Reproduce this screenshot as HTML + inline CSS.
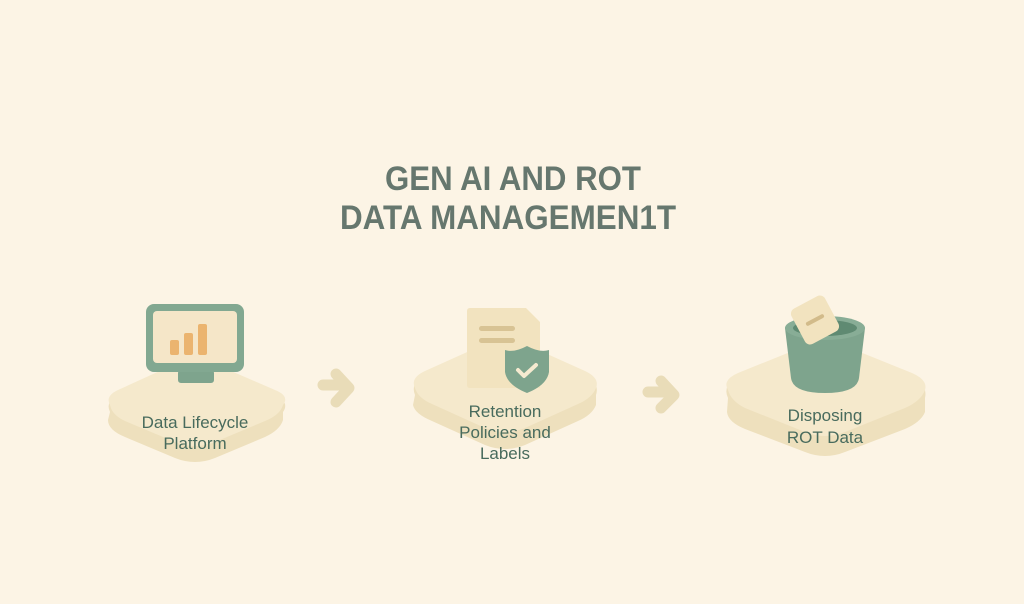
<!DOCTYPE html>
<html><head><meta charset="utf-8"><style>
html,body{margin:0;padding:0;background:#fcf4e5;}
svg{display:block}
text{font-family:"Liberation Sans","DejaVu Sans",sans-serif;}
</style></head><body>
<svg width="1024" height="604" viewBox="0 0 1024 604" xmlns="http://www.w3.org/2000/svg">
<rect width="1024" height="604" fill="#fcf4e5"/>
<text x="385" y="190" textLength="256" lengthAdjust="spacingAndGlyphs" font-size="34" font-weight="bold" fill="#66776e">GEN AI AND ROT</text>
<text x="340" y="229" textLength="336" lengthAdjust="spacingAndGlyphs" font-size="34" font-weight="bold" fill="#66776e">DATA MANAGEMEN1T</text>

<!-- platform 1 -->
<path d="M110 412 Q105 402 118 395 L175 368 Q195 360 215 368 L275 395 Q290 402 283 412 L283 420 Q280 430 265 437 L215 458 Q195 466 175 458 L125 437 Q108 430 108 420 Z" fill="#eee0bd"/>
<path d="M110 405 Q105 396 118 390 L175 364 Q195 356 215 364 L275 390 Q290 396 283 405 Q280 415 265 421 L215 442 Q195 450 175 442 L125 421 Q112 415 110 405 Z" fill="#f5e9cc"/>
<rect x="178" y="370" width="36" height="13" rx="3" fill="#7ea48d"/>
<rect x="189" y="355" width="16" height="18" fill="#7ea48d"/>
<rect x="146" y="304" width="98" height="68" rx="8" fill="#82a891"/>
<rect x="153" y="311" width="84" height="52" rx="4" fill="#f5e6c8"/>
<rect x="170" y="340" width="9" height="15" rx="2" fill="#ebb46f"/>
<rect x="184" y="333" width="9" height="22" rx="2" fill="#ebb46f"/>
<rect x="198" y="324" width="9" height="31" rx="2" fill="#ebb46f"/>
<text x="195" y="428" text-anchor="middle" font-size="17" fill="#486b5d">Data Lifecycle</text>
<text x="195" y="449" text-anchor="middle" font-size="17" fill="#486b5d">Platform</text>

<!-- arrow 1 -->
<path d="M323 385 L345 385 M336 374 L349 388 L336 402" stroke="#e9dcb8" stroke-width="11" stroke-linecap="round" stroke-linejoin="round" fill="none"/>

<!-- platform 2 -->
<path d="M415 395 Q410 383 425 375 L485 348 Q505 340 525 348 L585 375 Q600 383 596 395 L596 405 Q592 415 578 421 L525 445 Q505 453 485 445 L432 421 Q415 414 413 405 Z" fill="#eee0bd"/>
<path d="M415 388 Q410 378 425 371 L485 344 Q505 336 525 344 L585 371 Q600 378 596 388 Q592 398 578 404 L525 428 Q505 436 485 428 L432 404 Q418 398 415 388 Z" fill="#f5e9cc"/>
<path d="M470 308 L526 308 L540 322 L540 388 L470 388 Q467 388 467 385 L467 311 Q467 308 470 308 Z" fill="#f2e3bf"/>
<rect x="479" y="326" width="36" height="5" rx="2.5" fill="#d8c394"/>
<rect x="479" y="338" width="36" height="5" rx="2.5" fill="#d8c394"/>
<path d="M527 346 Q540 353 549 350 L549 372 Q547 385 527 393 Q507 385 505 372 L505 350 Q514 353 527 346 Z" fill="#7ea48d"/>
<path d="M518 370 L524 376 L536 365" stroke="#f5ead0" stroke-width="4" fill="none" stroke-linecap="round" stroke-linejoin="round"/>
<text x="505" y="417" text-anchor="middle" font-size="17" fill="#486b5d">Retention</text>
<text x="505" y="438" text-anchor="middle" font-size="17" fill="#486b5d">Policies and</text>
<text x="505" y="459" text-anchor="middle" font-size="17" fill="#486b5d">Labels</text>

<!-- arrow 2 -->
<path d="M648 392 L670 392 M661 381 L674 395 L661 408" stroke="#e9dcb8" stroke-width="11" stroke-linecap="round" stroke-linejoin="round" fill="none"/>

<!-- platform 3 -->
<path d="M728 398 Q722 385 738 378 L805 350 Q825 342 845 350 L912 378 Q928 385 925 398 L925 412 Q921 422 905 429 L845 452 Q825 460 805 452 L745 429 Q728 422 727 412 Z" fill="#eee0bd"/>
<path d="M728 390 Q722 380 738 373 L805 346 Q825 338 845 346 L912 373 Q928 380 925 390 Q921 401 905 408 L845 432 Q825 440 805 432 L745 408 Q731 401 728 390 Z" fill="#f5e9cc"/>
<path d="M785 328 L791 378 Q793 393 825 393 Q857 393 859 378 L865 328 Z" fill="#7ea48d"/>
<ellipse cx="825" cy="328" rx="40" ry="12" fill="#88ad96"/>
<ellipse cx="825" cy="328" rx="32" ry="8" fill="#5f8a72"/>
<g transform="rotate(-28 815 320)"><rect x="796" y="300" width="38" height="40" rx="6" fill="#f2e3bf"/><rect x="805" y="318" width="20" height="4" rx="2" fill="#d2bb8a"/></g>
<text x="825" y="421" text-anchor="middle" font-size="17" fill="#486b5d">Disposing</text>
<text x="825" y="443" text-anchor="middle" font-size="17" fill="#486b5d">ROT Data</text>
</svg>
</body></html>
